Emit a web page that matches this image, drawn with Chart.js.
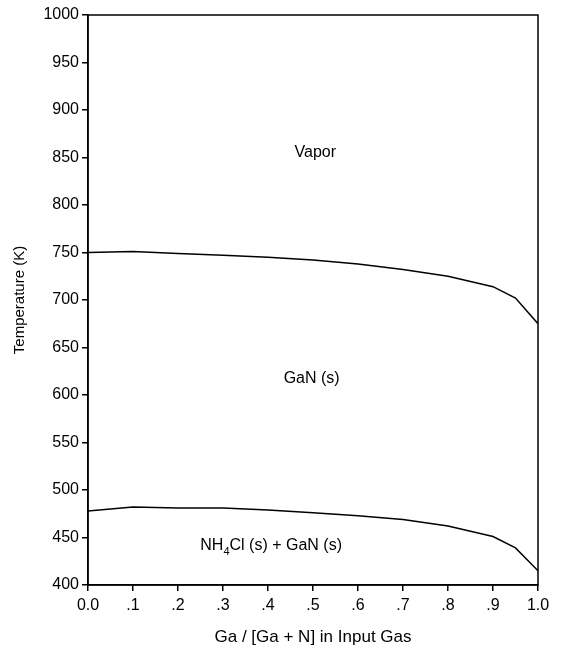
<!DOCTYPE html>
<html>
<head>
<meta charset="utf-8">
<script src="https://cdn.jsdelivr.net/npm/chart.js@4.4.1/dist/chart.umd.min.js"></script>
<style>
  html, body { margin: 0; padding: 0; background: #fff; }
  #wrap { width: 563px; height: 652px; }
</style>
</head>
<body>
<div id="wrap"><canvas id="c" width="563" height="652"></canvas></div>
<script>
const xValues = [0.0, 0.1, 0.2, 0.3, 0.4, 0.5, 0.6, 0.7, 0.8, 0.9, 0.95, 1.0];
const vaporLine = [750, 751, 749, 747, 745, 742, 738, 732, 725, 714, 702, 675];
const nh4clLine = [478, 482, 481, 481, 479, 476, 473, 469, 462, 451, 439, 415];
const xTickLabels = ["0.0", ".1", ".2", ".3", ".4", ".5", ".6", ".7", ".8", ".9", "1.0"];
const regionLabels = [
  { text: "Vapor", x: 0.505, y: 855 },
  { text: "GaN (s)", x: 0.497, y: 617 },
  { text: "NH4Cl (s) + GaN (s)", x: 0.407, y: 441 }
];

const FONT = "'Liberation Sans', Arial, sans-serif";

const toPoints = ys => ys.map((y, i) => ({ x: xValues[i], y }));

// box round the plot + region labels
const extras = {
  id: "extras",
  afterDraw(chart) {
    const { ctx, chartArea: a, scales } = chart;
    ctx.save();
    ctx.strokeStyle = "#000";
    ctx.lineWidth = 1.5;
    ctx.strokeRect(a.left, a.top, a.right - a.left, a.bottom - a.top);

    ctx.fillStyle = "#000";
    ctx.textBaseline = "middle";
    regionLabels.forEach(l => {
      const px = scales.x.getPixelForValue(l.x);
      const py = scales.y.getPixelForValue(l.y);
      if (l.text.startsWith("NH4")) {
        // subscript 4
        const big = "16px " + FONT, small = "11px " + FONT;
        ctx.font = big;
        const w1 = ctx.measureText("NH").width;
        const w3 = ctx.measureText("Cl (s) + GaN (s)").width;
        ctx.font = small;
        const w2 = ctx.measureText("4").width;
        let x0 = px - (w1 + w2 + w3) / 2;
        ctx.textAlign = "left";
        ctx.font = big;
        ctx.fillText("NH", x0, py);
        ctx.font = small;
        ctx.fillText("4", x0 + w1, py + 6);
        ctx.font = big;
        ctx.fillText("Cl (s) + GaN (s)", x0 + w1 + w2, py);
      } else {
        ctx.font = "16px " + FONT;
        ctx.textAlign = "center";
        ctx.fillText(l.text, px, py);
      }
    });
    ctx.restore();
  }
};

new Chart(document.getElementById("c"), {
  type: "line",
  data: {
    datasets: [
      { data: toPoints(vaporLine), borderColor: "#000", borderWidth: 1.5, pointRadius: 0, tension: 0, fill: false },
      { data: toPoints(nh4clLine), borderColor: "#000", borderWidth: 1.5, pointRadius: 0, tension: 0, fill: false }
    ]
  },
  options: {
    responsive: false,
    animation: false,
    layout: { padding: { top: 15, right: 25, left: 0, bottom: 0 } },
    plugins: { legend: { display: false }, tooltip: { enabled: false } },
    scales: {
      x: {
        type: "linear",
        min: 0, max: 1,
        afterFit: s => { s.height = 67; },
        ticks: {
          stepSize: 0.1,
          color: "#000",
          font: { family: FONT, size: 16 },
          padding: 5,
          maxRotation: 0,
          callback: (v, i) => xTickLabels[i]
        },
        grid: { drawOnChartArea: false, tickLength: 6, color: "#000", lineWidth: 1.5 },
        border: { color: "#000", width: 1.5 },
        title: { display: true, text: "Ga / [Ga + N] in Input Gas", color: "#000", font: { family: FONT, size: 17 }, padding: { top: 4 } }
      },
      y: {
        min: 400, max: 1000,
        afterFit: s => { s.width = 88; },
        ticks: {
          stepSize: 50,
          color: "#000",
          font: { family: FONT, size: 16 },
          padding: 3,
          callback: v => String(v)
        },
        grid: { drawOnChartArea: false, tickLength: 6, color: "#000", lineWidth: 1.5 },
        border: { color: "#000", width: 1.5 },
        title: { display: true, text: "Temperature (K)", color: "#000", font: { family: FONT, size: 15 }, padding: { top: 11 } }
      }
    }
  },
  plugins: [extras]
});
</script>
</body>
</html>
